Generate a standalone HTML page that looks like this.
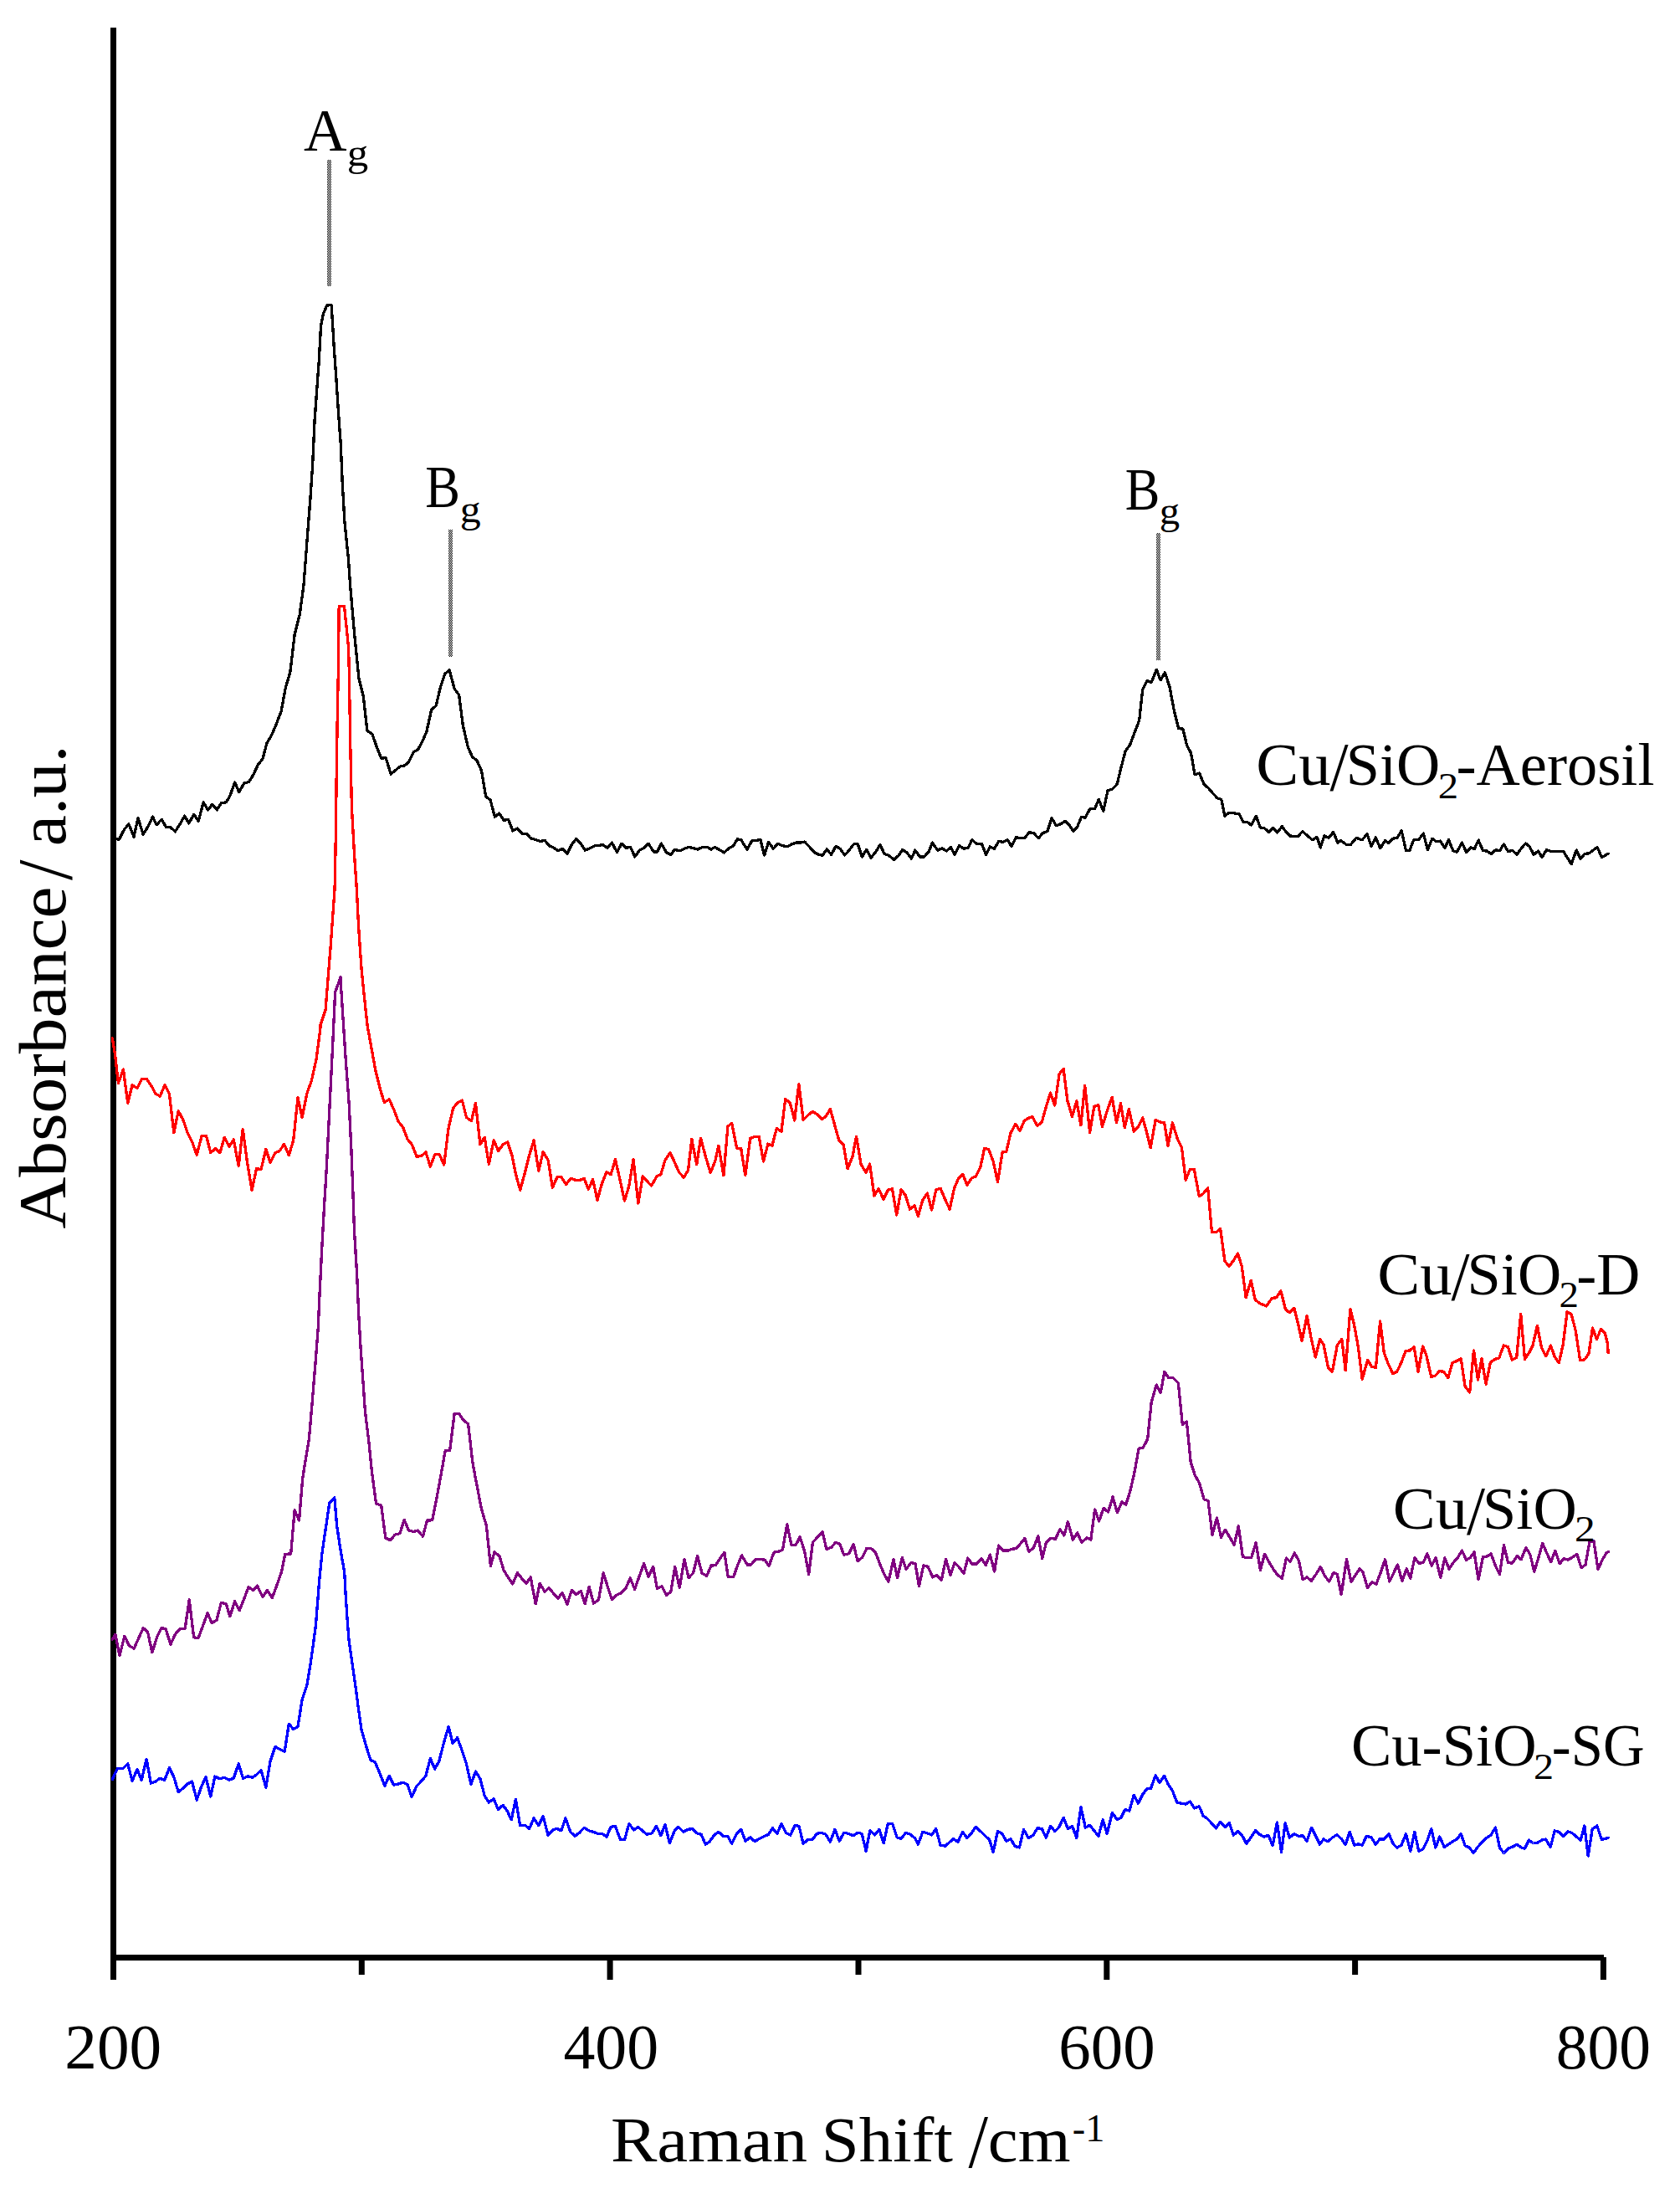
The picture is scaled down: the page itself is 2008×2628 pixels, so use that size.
<!DOCTYPE html>
<html lang="en"><head><meta charset="utf-8"><title>Raman spectra</title>
<style>
html,body{margin:0;padding:0;background:#fff}
body{width:2008px;height:2628px;overflow:hidden}
svg{display:block}
text{font-family:"Liberation Serif","DejaVu Serif",serif;fill:#000}
.c{fill:none;stroke-width:3.3;stroke-linejoin:round;stroke-linecap:round;shape-rendering:crispEdges}
.ax{fill:#000}
</style></head><body>
<svg width="2008" height="2628" viewBox="0 0 2008 2628">
<defs>
<pattern id="ckE" x="0" y="0" width="2" height="2" patternUnits="userSpaceOnUse"><rect x="0" y="0" width="1" height="1" fill="#000" shape-rendering="crispEdges"/><rect x="1" y="1" width="1" height="1" fill="#000" shape-rendering="crispEdges"/></pattern>
<pattern id="ckO" x="1" y="0" width="2" height="2" patternUnits="userSpaceOnUse"><rect x="0" y="0" width="1" height="1" fill="#000" shape-rendering="crispEdges"/><rect x="1" y="1" width="1" height="1" fill="#000" shape-rendering="crispEdges"/></pattern>
</defs>
<rect x="0" y="0" width="2008" height="2628" fill="#ffffff"/>
<rect class="ax" x="132" y="33" width="7" height="2310"/>
<rect class="ax" x="132" y="2336" width="1785" height="7"/>
<rect class="ax" x="132.0" y="2339" width="7" height="27"/>
<rect class="ax" x="725.6" y="2339" width="7" height="27"/>
<rect class="ax" x="1319.3" y="2339" width="7" height="27"/>
<rect class="ax" x="1912.9" y="2339" width="7" height="27"/>
<rect class="ax" x="428.8" y="2339" width="7" height="21"/>
<rect class="ax" x="1022.5" y="2339" width="7" height="21"/>
<rect class="ax" x="1616.1" y="2339" width="7" height="21"/>
<polyline class="c" stroke="#0000ff" points="134.3,2126.7 140.2,2113.9 147.4,2113.3 152.7,2107.9 158.1,2128.2 164.0,2114.2 169.1,2127.6 175.1,2102.3 180.4,2131.1 186.1,2129.0 190.8,2125.2 196.8,2127.3 202.4,2112.7 207.8,2123.7 213.2,2141.5 218.8,2137.1 224.2,2132.0 229.5,2129.0 235.2,2151.1 240.5,2135.6 245.9,2123.7 251.8,2146.9 256.9,2123.1 262.9,2125.8 268.2,2124.3 273.9,2127.3 279.2,2125.2 285.2,2107.9 290.5,2125.2 296.2,2122.8 301.5,2124.3 306.9,2120.7 312.0,2115.4 317.9,2136.2 323.0,2105.2 328.9,2087.4 334.3,2090.4 340.2,2093.3 345.3,2060.3 350.7,2066.5 356.0,2063.6 361.1,2031.4 367.0,2013.6 370.9,1989.8 375.1,1960.0 377.4,1942.7 379.5,1916.0 381.9,1886.2 384.9,1856.4 389.3,1826.7 393.8,1796.3 399.8,1790.0 402.7,1823.7 407.2,1853.5 411.7,1878.8 413.2,1907.0 415.2,1936.8 417.0,1960.0 420.6,1985.3 425.1,2016.5 428.6,2043.3 431.9,2066.5 437.6,2086.5 442.9,2103.5 448.3,2105.8 454.2,2119.8 459.9,2134.1 465.2,2122.2 470.6,2133.2 476.2,2132.0 481.6,2130.2 487.0,2132.6 492.0,2147.5 498.0,2134.7 503.3,2129.0 509.0,2122.2 514.3,2101.4 519.7,2114.2 524.8,2104.9 530.7,2082.0 536.1,2063.6 541.1,2083.5 546.5,2076.7 552.1,2091.5 557.5,2108.2 562.9,2132.6 568.5,2117.1 573.9,2125.8 579.2,2146.0 584.3,2154.0 590.2,2149.9 595.3,2162.4 601.2,2157.3 606.6,2164.8 611.1,2174.9 616.4,2150.5 621.7,2181.8 627.4,2181.2 632.7,2185.4 638.1,2172.9 643.8,2181.8 649.1,2170.5 655.1,2193.2 660.4,2187.2 665.5,2185.4 670.8,2187.8 675.9,2172.9 681.8,2189.3 687.2,2194.3 692.9,2189.9 698.2,2184.2 703.6,2187.8 709.2,2189.3 714.6,2191.4 719.9,2191.7 725.0,2195.2 730.1,2183.3 735.4,2182.4 741.4,2198.2 746.7,2198.2 751.8,2179.5 757.7,2186.9 762.8,2183.3 768.2,2188.4 773.5,2192.3 779.2,2190.8 784.5,2182.4 789.9,2193.8 794.9,2180.4 800.3,2202.7 806.0,2188.4 810.7,2183.3 816.7,2189.3 822.3,2186.3 827.7,2185.7 833.0,2190.8 838.1,2192.3 843.2,2204.2 847.9,2201.2 853.6,2193.2 858.9,2189.3 864.3,2194.3 869.9,2194.6 874.7,2203.3 880.4,2191.7 885.7,2186.3 891.1,2200.3 896.7,2195.8 902.1,2200.6 907.4,2197.6 913.1,2194.6 918.5,2192.3 923.5,2184.8 928.9,2191.4 933.9,2179.5 939.3,2190.2 944.6,2193.2 950.3,2181.2 955.1,2182.7 960.1,2203.3 965.5,2198.8 971.1,2198.2 976.5,2191.4 981.8,2190.2 986.9,2192.3 992.3,2201.2 997.9,2186.3 1003.3,2200.3 1008.6,2190.2 1014.3,2191.4 1019.6,2193.8 1025.0,2190.2 1030.1,2191.4 1035.1,2212.2 1039.9,2187.8 1045.5,2192.9 1050.9,2186.3 1056.2,2202.7 1061.3,2179.5 1066.7,2179.5 1072.3,2196.1 1077.1,2197.3 1082.7,2190.2 1088.1,2192.3 1093.5,2196.7 1097.3,2204.2 1102.9,2189.3 1108.3,2190.8 1113.6,2192.9 1118.7,2185.4 1124.0,2205.1 1129.7,2206.2 1134.5,2202.1 1139.5,2197.6 1144.9,2201.2 1150.5,2189.3 1155.9,2196.7 1161.2,2190.8 1166.3,2183.3 1171.7,2188.4 1177.3,2193.8 1182.7,2198.8 1187.1,2213.7 1192.5,2188.4 1197.6,2191.4 1202.9,2200.3 1208.0,2197.6 1213.0,2206.5 1218.4,2208.0 1223.5,2186.3 1229.4,2196.7 1234.8,2193.2 1240.1,2184.8 1245.2,2185.4 1250.2,2196.1 1255.6,2182.4 1261.0,2188.7 1266.0,2183.3 1271.1,2172.3 1276.4,2185.4 1281.8,2182.7 1286.8,2196.7 1291.9,2159.5 1297.3,2184.2 1302.6,2181.2 1307.7,2187.8 1313.0,2194.3 1318.1,2175.0 1323.2,2191.4 1329.4,2166.4 1335.1,2174.4 1339.8,2172.3 1344.9,2162.5 1349.9,2164.0 1355.3,2145.2 1360.4,2155.1 1365.7,2144.6 1370.8,2137.8 1375.5,2137.2 1381.2,2121.7 1386.0,2130.7 1391.6,2122.3 1396.4,2132.7 1401.4,2140.2 1406.8,2154.2 1411.8,2155.1 1417.2,2156.0 1422.3,2153.0 1427.6,2161.0 1433.3,2158.6 1438.0,2169.9 1443.1,2173.5 1448.2,2178.9 1453.5,2184.8 1458.6,2177.4 1464.5,2183.3 1469.3,2178.3 1474.3,2193.2 1479.7,2188.4 1484.8,2193.8 1489.8,2203.3 1495.2,2195.8 1500.5,2187.8 1505.6,2192.3 1510.7,2195.2 1516.0,2193.2 1521.1,2205.7 1526.4,2178.0 1531.5,2213.7 1536.2,2178.9 1541.3,2196.1 1546.7,2191.7 1552.3,2194.3 1557.1,2193.8 1562.1,2200.3 1567.5,2184.2 1573.2,2195.2 1577.5,2204.2 1582.0,2198.0 1587.0,2200.8 1592.5,2196.2 1598.0,2192.5 1603.2,2197.5 1608.2,2204.5 1613.2,2189.2 1618.8,2205.0 1623.8,2203.8 1628.2,2205.0 1633.2,2194.5 1638.8,2195.5 1644.2,2204.2 1649.2,2198.0 1654.2,2198.0 1660.0,2191.8 1665.0,2203.2 1669.5,2208.2 1675.0,2205.0 1680.5,2191.8 1685.8,2212.5 1690.8,2189.2 1695.8,2212.5 1700.8,2210.0 1705.8,2200.0 1710.8,2185.8 1715.8,2208.0 1720.8,2195.0 1726.2,2207.5 1731.2,2204.2 1736.2,2200.8 1741.2,2198.0 1746.2,2191.8 1751.2,2205.8 1756.2,2208.0 1761.2,2214.5 1766.2,2207.5 1772.0,2200.8 1777.0,2196.2 1782.0,2193.0 1787.5,2184.2 1792.5,2208.2 1797.5,2214.5 1803.2,2208.8 1808.2,2207.0 1813.2,2204.2 1818.2,2208.0 1822.5,2209.2 1827.5,2199.2 1832.5,2202.5 1837.5,2202.5 1842.5,2199.2 1847.5,2198.0 1853.2,2207.5 1858.2,2188.0 1863.8,2189.5 1868.8,2194.5 1874.2,2188.8 1879.2,2190.8 1884.2,2195.0 1889.2,2199.2 1893.8,2182.0 1898.2,2218.0 1903.2,2185.8 1908.8,2182.0 1914.2,2198.2 1918.8,2197.5 1922.5,2196.2"/>
<polyline class="c" stroke="#800080" points="134.3,1959.1 137.9,1953.2 142.9,1978.5 148.9,1955.2 154.2,1966.5 160.2,1970.1 165.5,1958.2 171.2,1945.7 176.5,1950.2 181.9,1974.9 187.9,1955.5 192.9,1945.7 198.0,1946.6 203.9,1965.1 209.3,1953.2 215.2,1946.6 221.2,1946.3 226.2,1911.5 231.6,1956.7 237.0,1957.6 242.6,1942.7 248.0,1927.9 253.3,1939.8 259.0,1936.2 264.3,1915.4 270.3,1916.8 274.8,1931.7 280.7,1913.6 286.1,1924.9 291.7,1910.9 297.1,1896.6 302.4,1900.5 307.5,1895.1 314.0,1908.5 319.4,1900.5 325.4,1909.4 330.7,1895.1 336.4,1878.8 340.8,1857.3 347.7,1857.0 352.1,1804.9 357.5,1817.1 361.7,1767.1 364.9,1746.3 369.4,1719.5 373.0,1677.9 376.4,1636.6 380.2,1588.0 382.0,1547.4 384.5,1496.5 387.3,1445.6 390.4,1394.6 392.9,1343.7 395.5,1292.8 398.0,1241.9 400.6,1185.8 407.0,1168.0 407.5,1178.0 410.8,1229.0 413.3,1267.3 417.1,1318.0 419.7,1369.0 421.7,1420.0 423.5,1471.0 426.6,1522.0 428.6,1567.8 431.1,1611.0 434.2,1654.4 436.4,1686.8 440.8,1722.5 444.4,1758.2 449.5,1796.9 455.7,1799.3 460.8,1838.0 466.7,1840.7 472.1,1834.1 478.0,1832.6 483.1,1816.2 488.5,1829.0 494.4,1830.5 499.5,1829.0 505.4,1836.2 510.5,1817.1 516.7,1816.8 521.8,1791.0 526.8,1764.2 532.2,1733.8 537.6,1733.8 543.2,1689.2 548.6,1689.2 553.9,1697.2 559.6,1701.7 564.9,1747.8 570.0,1775.2 575.4,1802.9 581.3,1823.1 586.4,1871.3 591.1,1854.9 597.1,1860.0 602.1,1876.7 608.1,1886.2 612.8,1893.0 618.5,1879.6 623.8,1886.5 628.9,1892.4 634.2,1885.0 640.2,1916.8 645.2,1892.4 651.2,1902.3 656.0,1897.5 661.6,1904.3 667.0,1910.3 672.0,1903.5 678.0,1917.1 683.3,1900.5 688.7,1905.8 694.3,1901.4 699.1,1916.8 704.2,1896.3 709.5,1916.2 715.5,1911.8 721.1,1879.9 726.5,1896.9 731.5,1911.8 736.9,1906.4 742.3,1903.8 747.9,1898.4 753.3,1885.9 758.6,1899.3 763.7,1885.0 769.6,1868.6 775.0,1884.4 780.7,1872.5 785.4,1898.4 791.1,1896.0 796.4,1906.4 801.8,1902.3 806.8,1872.5 812.2,1897.5 817.9,1863.6 823.2,1885.6 828.6,1879.9 833.6,1859.7 839.0,1879.9 844.6,1883.5 850.0,1871.0 855.4,1870.7 860.4,1862.7 865.8,1855.2 870.2,1884.4 876.8,1884.4 881.8,1870.1 886.6,1858.8 893.2,1870.1 897.6,1870.1 903.0,1863.6 908.6,1863.6 914.0,1864.2 919.0,1871.6 925.0,1855.2 930.4,1854.3 935.4,1852.3 940.8,1821.6 945.8,1846.3 951.2,1846.3 956.2,1836.8 961.6,1853.8 966.7,1881.4 971.4,1843.3 977.4,1836.8 983.0,1830.5 987.8,1851.4 993.5,1849.3 998.8,1843.3 1003.9,1845.4 1008.6,1858.2 1014.6,1856.7 1020.2,1845.7 1025.0,1865.7 1030.7,1861.2 1036.0,1850.2 1041.4,1850.8 1046.4,1855.2 1051.5,1868.6 1056.8,1881.4 1061.9,1890.1 1067.9,1863.6 1072.6,1885.6 1078.3,1861.2 1083.0,1875.5 1088.7,1867.7 1094.0,1868.6 1098.5,1895.3 1103.8,1870.9 1109.2,1872.4 1114.8,1884.9 1119.6,1882.5 1125.2,1888.5 1130.6,1863.2 1136.0,1882.8 1141.0,1867.6 1146.4,1873.0 1152.0,1880.4 1156.8,1862.0 1161.8,1869.1 1167.2,1869.1 1173.2,1862.6 1178.2,1870.6 1183.3,1858.1 1188.6,1878.0 1193.7,1847.1 1198.5,1853.0 1205.0,1853.0 1209.5,1851.2 1214.5,1850.7 1219.9,1844.7 1224.9,1838.2 1229.7,1854.2 1235.4,1849.8 1240.7,1835.8 1245.8,1862.6 1250.5,1843.2 1256.2,1838.2 1261.5,1839.3 1266.9,1827.7 1272.0,1834.9 1276.4,1818.8 1282.4,1840.2 1287.7,1831.9 1292.8,1843.2 1299.3,1837.9 1303.8,1840.2 1308.6,1803.9 1313.6,1817.9 1319.0,1802.4 1324.6,1806.9 1330.0,1789.0 1335.4,1807.5 1341.0,1795.0 1345.8,1798.0 1350.8,1782.2 1355.9,1759.9 1361.2,1731.0 1366.3,1730.1 1371.7,1719.7 1376.1,1676.5 1382.1,1655.1 1387.1,1664.6 1391.9,1639.3 1397.0,1646.8 1402.3,1646.8 1408.3,1652.7 1413.3,1702.7 1418.4,1698.9 1423.2,1747.4 1428.2,1762.9 1433.3,1771.8 1439.2,1792.0 1444.0,1793.5 1449.0,1834.3 1454.4,1814.0 1459.5,1837.3 1464.5,1828.3 1469.9,1837.3 1475.2,1846.2 1480.3,1823.9 1485.4,1860.5 1490.7,1861.7 1495.8,1861.1 1501.1,1843.8 1506.5,1876.5 1511.5,1857.2 1516.9,1867.0 1522.0,1875.4 1527.3,1882.5 1532.4,1886.4 1537.4,1862.0 1542.2,1866.4 1547.3,1856.0 1552.6,1865.5 1557.1,1887.9 1562.1,1884.9 1567.5,1889.3 1573.2,1881.0 1578.2,1872.5 1583.8,1883.8 1588.8,1890.0 1593.8,1879.5 1598.2,1881.2 1603.2,1905.5 1609.5,1863.8 1615.0,1890.8 1620.0,1882.5 1625.0,1875.0 1628.8,1878.2 1634.5,1897.5 1640.0,1890.8 1645.0,1893.0 1650.0,1880.0 1655.5,1863.8 1660.8,1890.0 1666.2,1878.8 1670.5,1870.0 1675.8,1889.5 1681.2,1875.0 1685.8,1886.2 1690.8,1861.8 1696.2,1868.2 1701.2,1867.5 1705.8,1856.8 1711.2,1871.2 1716.2,1861.8 1721.8,1885.5 1726.8,1861.8 1732.0,1875.0 1737.5,1867.0 1742.5,1861.2 1747.5,1853.2 1752.5,1864.2 1757.0,1861.8 1762.0,1855.0 1767.0,1887.5 1772.5,1860.8 1777.5,1860.0 1782.0,1856.8 1787.5,1871.2 1792.5,1881.8 1797.5,1846.2 1802.5,1867.5 1807.5,1868.2 1813.2,1859.5 1818.2,1863.8 1823.8,1849.5 1828.8,1857.5 1833.8,1878.2 1838.8,1861.8 1843.8,1844.5 1848.8,1856.2 1853.8,1866.8 1858.8,1853.2 1864.2,1868.8 1869.2,1862.5 1874.2,1864.2 1879.2,1861.2 1885.0,1857.5 1890.0,1873.8 1895.0,1870.0 1900.0,1842.5 1905.0,1842.0 1910.0,1875.5 1915.0,1864.5 1920.0,1855.8 1922.5,1854.5"/>
<polyline class="c" stroke="#ff0000" points="134.3,1240.8 137.3,1258.7 141.4,1294.4 147.4,1278.0 152.7,1318.2 158.1,1296.8 164.0,1300.4 169.7,1289.3 175.1,1289.3 180.4,1296.8 186.1,1307.2 191.4,1310.2 196.8,1296.8 202.4,1306.9 207.8,1353.9 213.2,1327.7 218.8,1338.2 224.2,1353.9 229.5,1364.3 235.2,1380.1 241.1,1357.8 246.5,1357.5 251.8,1377.7 257.5,1372.4 262.9,1377.7 268.2,1359.3 273.9,1370.3 279.2,1362.0 285.2,1393.2 290.2,1349.5 295.6,1389.6 301.0,1422.4 306.6,1396.5 312.0,1397.7 317.9,1373.3 323.0,1389.6 328.9,1377.7 334.3,1375.4 339.6,1367.3 345.3,1380.7 350.7,1362.9 356.0,1311.7 361.1,1335.5 367.0,1306.3 372.4,1291.4 378.0,1266.1 382.8,1230.4 383.0,1224.8 389.1,1207.0 391.9,1171.3 395.0,1133.0 398.3,1087.3 400.1,1061.8 401.3,1000.6 402.1,934.4 403.1,865.6 404.4,799.4 405.2,724.2 411.5,724.7 416.6,773.9 417.4,807.0 418.7,887.3 420.4,965.0 423.5,1021.0 426.3,1061.8 428.6,1107.6 431.9,1156.0 435.2,1189.0 439.0,1224.8 442.9,1246.8 448.9,1279.5 453.9,1299.8 459.3,1317.6 465.2,1313.8 470.6,1325.7 476.2,1340.5 481.6,1347.1 487.0,1361.4 492.6,1368.2 498.0,1382.2 503.3,1381.6 509.0,1377.1 514.3,1394.1 519.7,1379.8 525.4,1379.8 530.7,1392.0 536.1,1348.0 541.7,1324.2 547.1,1317.6 552.4,1315.2 557.5,1335.5 563.5,1339.6 568.5,1318.2 573.9,1367.9 579.2,1359.3 584.3,1391.1 590.2,1362.9 595.6,1375.4 601.2,1367.9 606.6,1364.9 612.0,1380.7 616.4,1402.9 621.7,1422.2 627.4,1401.4 632.7,1380.5 638.1,1362.7 643.8,1399.3 649.1,1376.7 655.1,1386.5 660.4,1419.2 666.1,1406.4 670.8,1406.7 676.5,1415.4 682.4,1408.2 687.8,1410.3 693.2,1410.3 698.2,1408.2 703.3,1421.3 708.6,1409.7 714.0,1434.1 719.6,1413.9 725.0,1400.5 730.1,1403.8 735.4,1385.6 740.8,1408.8 746.4,1435.0 751.8,1417.7 757.1,1385.6 762.8,1438.0 768.2,1405.8 773.5,1411.8 778.6,1417.1 785.1,1405.8 789.9,1403.5 794.9,1386.5 800.9,1377.6 806.2,1388.6 811.3,1400.5 817.3,1407.3 822.6,1398.4 826.8,1361.2 832.7,1391.8 837.5,1360.3 843.5,1382.6 849.1,1401.4 854.5,1388.6 858.9,1369.2 864.9,1404.9 869.9,1346.3 874.7,1342.4 880.7,1372.2 885.7,1372.5 890.8,1404.3 896.7,1360.6 902.1,1358.2 907.1,1358.2 912.5,1388.0 917.9,1367.1 922.9,1369.2 928.3,1348.4 933.9,1352.3 938.7,1313.6 944.3,1318.0 949.7,1338.9 954.8,1295.7 960.1,1338.3 965.5,1332.9 971.1,1328.5 976.5,1331.4 982.4,1337.4 986.9,1334.4 992.3,1325.5 997.9,1345.4 1002.7,1362.7 1008.3,1368.6 1013.1,1396.9 1019.0,1382.0 1023.5,1358.2 1029.2,1391.8 1035.1,1401.4 1039.6,1391.0 1044.9,1429.0 1050.3,1420.7 1056.0,1433.2 1061.3,1422.2 1066.4,1420.7 1071.7,1452.0 1077.1,1421.6 1082.1,1428.2 1087.5,1445.1 1093.2,1440.7 1097.3,1453.5 1102.9,1434.1 1108.3,1426.1 1113.6,1446.0 1118.7,1422.2 1124.0,1420.1 1129.7,1433.5 1135.1,1445.1 1140.4,1420.7 1145.5,1408.2 1150.8,1403.5 1155.9,1416.2 1161.2,1408.2 1166.3,1405.8 1171.7,1395.4 1176.7,1372.2 1181.8,1373.7 1187.1,1388.0 1192.5,1412.4 1198.2,1376.7 1202.9,1376.1 1208.0,1353.8 1213.9,1343.3 1219.0,1351.4 1224.3,1339.5 1228.8,1336.5 1233.9,1334.4 1239.8,1345.4 1245.2,1341.2 1250.2,1323.1 1255.6,1306.1 1260.7,1321.0 1266.0,1283.8 1271.1,1277.3 1275.8,1315.1 1281.5,1334.4 1286.8,1315.7 1291.9,1344.8 1296.7,1297.2 1302.6,1353.2 1307.7,1322.5 1312.7,1320.4 1317.5,1346.3 1323.5,1327.0 1329.1,1311.2 1334.5,1341.8 1339.5,1318.6 1344.3,1347.8 1349.3,1325.5 1355.3,1352.3 1360.7,1346.3 1365.7,1335.9 1370.8,1353.8 1375.2,1371.6 1381.2,1338.3 1386.5,1341.0 1391.6,1341.8 1396.1,1369.2 1401.4,1341.8 1407.4,1361.2 1412.4,1371.0 1417.2,1410.3 1422.3,1397.5 1427.3,1397.5 1433.3,1429.6 1438.0,1426.7 1443.7,1419.8 1448.5,1472.8 1453.5,1472.8 1458.6,1468.3 1463.9,1507.0 1469.0,1513.6 1474.3,1506.4 1479.4,1498.1 1484.2,1513.0 1489.2,1550.8 1495.2,1530.2 1500.2,1553.2 1505.6,1557.6 1513.6,1561.0 1520.4,1551.4 1525.5,1550.8 1530.8,1542.5 1536.5,1564.8 1541.2,1568.7 1546.9,1563.3 1551.7,1582.7 1556.1,1602.6 1562.1,1572.3 1567.1,1599.0 1572.2,1622.0 1577.6,1600.5 1582.0,1607.1 1587.4,1634.2 1592.4,1639.2 1598.4,1607.4 1603.8,1600.5 1608.2,1637.7 1613.9,1564.8 1618.6,1583.6 1623.1,1608.0 1628.2,1648.2 1634.7,1625.2 1639.5,1633.3 1644.5,1634.2 1649.6,1579.1 1654.3,1616.9 1659.4,1630.3 1664.8,1641.6 1669.8,1639.2 1674.9,1628.2 1680.2,1614.5 1685.3,1613.9 1690.1,1609.5 1695.1,1639.2 1700.5,1608.9 1704.9,1619.9 1710.6,1645.2 1715.4,1644.3 1720.4,1638.6 1725.5,1639.2 1730.8,1646.7 1735.9,1628.8 1741.2,1626.4 1746.3,1623.8 1751.1,1657.1 1756.7,1663.9 1761.5,1613.9 1766.5,1649.0 1771.0,1623.5 1776.1,1654.1 1781.4,1628.2 1786.8,1624.3 1791.8,1622.9 1797.2,1608.0 1802.3,1609.5 1807.3,1625.2 1812.7,1622.3 1817.7,1570.2 1822.5,1624.3 1827.6,1616.9 1832.0,1608.0 1837.4,1584.2 1842.4,1610.1 1847.8,1620.8 1853.5,1608.0 1858.2,1621.4 1863.3,1628.8 1868.3,1606.5 1873.1,1567.8 1878.2,1570.8 1883.2,1590.1 1888.6,1625.8 1893.9,1624.9 1899.0,1617.5 1903.5,1587.1 1908.5,1600.5 1913.3,1588.6 1918.3,1593.1 1921.3,1605.0 1922.2,1616.9"/>
<polyline class="c" stroke="#000000" points="137.9,1001.8 142.1,1003.6 148.6,991.1 153.9,985.0 160.0,1000.0 165.0,977.9 171.1,997.1 177.1,987.5 182.5,976.1 187.1,985.7 193.2,979.3 198.6,988.6 203.9,988.6 209.3,993.9 214.6,985.7 220.7,975.0 225.7,983.9 231.8,973.2 237.1,981.4 243.2,958.9 248.6,967.9 253.6,961.4 259.3,967.9 264.6,959.6 270.0,958.9 274.6,951.8 280.7,935.0 285.7,946.4 292.1,935.7 297.5,934.6 302.9,925.7 308.2,914.3 313.9,907.1 318.9,888.2 324.6,878.6 330.0,866.1 336.1,850.0 341.4,821.4 346.8,803.6 352.1,758.9 358.2,734.6 362.9,700.0 371.0,594.7 373.7,554.7 376.0,503.7 378.6,467.3 381.3,431.0 383.5,389.6 386.5,375.0 390.6,365.0 396.2,364.6 399.1,412.8 401.9,452.8 404.6,494.6 407.3,531.0 409.2,576.5 411.9,623.8 416.4,667.4 418.6,700.0 423.6,757.1 428.9,810.7 434.3,832.1 438.9,873.2 445.0,877.5 450.4,892.9 455.7,906.4 461.1,905.4 467.1,925.0 472.5,920.7 477.9,916.1 483.2,915.0 487.9,911.4 494.3,898.9 499.6,895.7 505.0,885.7 510.0,873.9 515.7,848.2 521.1,843.6 526.4,821.4 531.8,805.4 537.1,800.7 543.2,823.2 548.6,830.4 553.2,866.1 559.3,892.9 564.6,904.6 570.0,908.9 575.4,920.7 580.7,951.8 586.1,956.1 591.4,976.1 596.8,972.1 602.1,980.4 607.5,979.3 612.9,992.9 618.2,990.0 624.3,996.4 629.6,996.4 634.3,1001.8 640.4,1003.6 645.7,1005.4 651.1,1004.3 656.4,1010.7 661.8,1013.2 667.1,1016.8 672.5,1014.3 677.9,1020.4 683.2,1009.6 688.6,1002.5 693.9,1007.9 699.3,1016.1 705.7,1013.6 711.1,1010.7 715.0,1010.7 720.4,1009.6 725.7,1013.2 731.4,1007.1 737.5,1018.6 742.9,1008.2 748.2,1013.2 753.6,1012.5 758.9,1023.9 764.3,1016.1 769.6,1013.6 775.0,1008.2 781.4,1017.9 785.7,1017.9 790.4,1008.2 796.4,1018.6 801.8,1021.4 806.4,1015.4 812.5,1016.8 817.9,1014.3 823.2,1012.5 828.6,1013.6 833.9,1015.0 839.3,1012.5 845.4,1012.5 850.0,1015.0 854.6,1012.5 860.7,1016.1 865.4,1018.9 871.4,1013.6 876.1,1011.4 881.4,1002.9 885.7,1003.6 892.9,1015.0 898.9,1004.6 903.6,1004.3 908.9,1003.6 913.6,1022.1 918.6,1006.4 924.3,1014.3 929.6,1008.2 935.0,1010.7 941.1,1011.8 946.4,1008.9 951.8,1007.1 956.4,1007.1 961.8,1006.1 967.9,1012.5 973.2,1018.6 978.6,1021.4 983.2,1022.1 988.2,1015.0 993.6,1021.4 998.9,1011.4 1004.3,1014.3 1009.6,1022.1 1015.0,1016.1 1020.4,1008.9 1025.0,1008.2 1030.4,1023.9 1035.7,1015.4 1041.1,1025.0 1046.4,1018.6 1051.8,1009.6 1057.1,1020.4 1062.5,1022.5 1068.6,1027.5 1073.9,1022.5 1078.6,1015.4 1083.9,1018.9 1089.3,1026.1 1093.9,1016.1 1099.3,1023.9 1104.6,1023.9 1110.0,1017.9 1114.3,1007.1 1120.7,1016.1 1126.1,1013.6 1131.4,1017.1 1136.4,1012.5 1141.1,1021.4 1146.4,1010.7 1151.8,1014.3 1157.1,1013.2 1161.8,1003.6 1167.9,1008.9 1173.2,1008.2 1178.6,1021.4 1183.2,1011.8 1188.6,1014.3 1193.6,1005.4 1198.9,1006.4 1204.3,1003.6 1208.9,1011.4 1214.3,1000.7 1219.6,1001.8 1225.0,1001.1 1230.4,994.6 1235.7,995.7 1241.1,1001.8 1246.4,995.7 1251.8,993.6 1257.1,977.9 1262.5,986.8 1267.9,984.6 1273.2,981.4 1278.6,986.8 1280.0,989.0 1282.9,993.1 1287.6,988.3 1292.4,976.4 1297.1,977.1 1303.1,966.2 1308.6,966.2 1313.3,955.5 1318.8,969.3 1324.0,944.8 1329.5,943.1 1335.2,937.1 1339.5,919.3 1345.0,897.9 1350.7,890.0 1356.2,875.2 1361.7,861.0 1365.7,824.0 1371.0,813.3 1376.0,815.7 1382.4,800.2 1387.1,812.9 1392.4,803.8 1397.9,820.5 1403.3,849.0 1408.6,870.5 1413.8,871.2 1418.6,890.7 1423.6,900.2 1428.1,925.7 1433.6,924.0 1439.0,937.1 1444.3,941.9 1449.5,947.9 1455.0,953.8 1459.8,955.5 1464.0,975.2 1468.8,971.2 1474.8,971.7 1481.2,972.9 1486.0,982.4 1490.7,982.4 1495.5,986.0 1501.4,975.2 1506.2,989.0 1511.0,989.5 1516.4,994.3 1521.7,989.5 1526.4,995.0 1532.4,987.6 1537.1,994.3 1541.9,999.0 1546.7,999.5 1551.4,999.5 1556.9,993.6 1562.1,998.3 1568.6,1003.8 1574.0,1000.2 1578.3,1012.9 1582.9,999.0 1588.3,1001.4 1593.6,994.3 1599.0,1007.4 1602.6,1004.5 1609.8,1009.8 1614.5,1009.3 1621.0,1001.4 1628.1,1003.8 1634.0,996.7 1639.0,1011.4 1644.3,1001.0 1649.8,1013.8 1655.5,1004.5 1660.0,1007.7 1664.5,1002.3 1669.8,1001.4 1675.2,992.9 1680.5,1016.6 1685.0,1016.1 1689.5,1004.1 1695.7,1003.2 1701.4,996.1 1706.4,1015.7 1711.8,1002.3 1717.1,1005.9 1721.6,1005.0 1727.0,1013.6 1731.4,1003.6 1736.8,1016.6 1741.2,1018.4 1747.5,1007.1 1752.5,1018.4 1758.2,1013.0 1762.1,1014.8 1767.1,1004.1 1772.5,1016.6 1777.0,1017.0 1782.3,1020.5 1787.7,1015.7 1792.5,1016.6 1797.5,1008.9 1802.5,1017.5 1807.9,1016.6 1813.2,1021.1 1818.9,1013.0 1823.4,1008.0 1827.9,1011.2 1833.2,1021.4 1838.6,1017.0 1843.0,1024.6 1848.4,1015.7 1853.8,1017.5 1861.8,1017.5 1868.9,1017.9 1878.2,1032.7 1884.1,1016.1 1889.1,1026.4 1893.9,1020.5 1899.3,1019.8 1909.1,1012.5 1914.5,1024.6 1922.1,1020.2"/>
<rect fill="url(#ckO)" shape-rendering="crispEdges" x="391" y="191" width="5" height="151"/>
<rect fill="url(#ckO)" shape-rendering="crispEdges" x="536" y="633" width="5" height="152"/>
<rect fill="url(#ckE)" shape-rendering="crispEdges" x="1382" y="637" width="5" height="152"/>
<text><tspan x="362.99" y="179.7" font-size="72.0" textLength="51.52" lengthAdjust="spacingAndGlyphs">A</tspan><tspan x="414.65" y="198.0" font-size="45.5" textLength="25.49" lengthAdjust="spacingAndGlyphs">g</tspan></text>
<text><tspan x="508.21" y="606.0" font-size="71.3" textLength="41.70" lengthAdjust="spacingAndGlyphs">B</tspan><tspan x="549.70" y="623.8" font-size="45.5" textLength="24.92" lengthAdjust="spacingAndGlyphs">g</tspan></text>
<text><tspan x="1344.76" y="609.0" font-size="71.3" textLength="41.64" lengthAdjust="spacingAndGlyphs">B</tspan><tspan x="1385.73" y="625.8" font-size="45.5" textLength="24.34" lengthAdjust="spacingAndGlyphs">g</tspan></text>
<text><tspan x="1501.31" y="938.0" font-size="71.3" textLength="89.27" lengthAdjust="spacingAndGlyphs">Cu</tspan><tspan x="1589.45" y="944.2" font-size="82.0" textLength="22.08" lengthAdjust="spacingAndGlyphs">/</tspan><tspan x="1608.65" y="938.0" font-size="71.3" textLength="112.59" lengthAdjust="spacingAndGlyphs">SiO</tspan><tspan x="1718.66" y="954.0" font-size="44.5" textLength="24.40" lengthAdjust="spacingAndGlyphs">2</tspan><tspan x="1740.45" y="938.0" font-size="71.3" textLength="237.07" lengthAdjust="spacingAndGlyphs">-Aerosil</tspan></text>
<text><tspan x="1646.35" y="1546.5" font-size="71.3" textLength="89.20" lengthAdjust="spacingAndGlyphs">Cu</tspan><tspan x="1734.49" y="1552.7" font-size="82.0" textLength="22.03" lengthAdjust="spacingAndGlyphs">/</tspan><tspan x="1753.64" y="1546.5" font-size="71.3" textLength="112.58" lengthAdjust="spacingAndGlyphs">SiO</tspan><tspan x="1863.56" y="1561.8" font-size="44.5" textLength="23.44" lengthAdjust="spacingAndGlyphs">2</tspan><tspan x="1884.25" y="1546.5" font-size="71.3" textLength="76.02" lengthAdjust="spacingAndGlyphs">-D</tspan></text>
<text><tspan x="1664.84" y="1826.5" font-size="71.3" textLength="89.20" lengthAdjust="spacingAndGlyphs">Cu</tspan><tspan x="1752.99" y="1832.7" font-size="82.0" textLength="22.03" lengthAdjust="spacingAndGlyphs">/</tspan><tspan x="1772.12" y="1826.5" font-size="71.3" textLength="112.59" lengthAdjust="spacingAndGlyphs">SiO</tspan><tspan x="1881.99" y="1842.0" font-size="44.5" textLength="24.73" lengthAdjust="spacingAndGlyphs">2</tspan></text>
<text><tspan x="1614.91" y="2110.1" font-size="71.3" textLength="221.69" lengthAdjust="spacingAndGlyphs">Cu-SiO</tspan><tspan x="1833.02" y="2126.0" font-size="44.5" textLength="24.09" lengthAdjust="spacingAndGlyphs">2</tspan><tspan x="1854.87" y="2110.1" font-size="71.3" textLength="110.73" lengthAdjust="spacingAndGlyphs">-SG</tspan></text>
<text><tspan x="77.30" y="2472.2" font-size="76.5" textLength="115.88" lengthAdjust="spacingAndGlyphs">200</tspan></text>
<text><tspan x="673.42" y="2472.2" font-size="76.5" textLength="113.72" lengthAdjust="spacingAndGlyphs">400</tspan></text>
<text><tspan x="1265.30" y="2472.2" font-size="76.5" textLength="115.36" lengthAdjust="spacingAndGlyphs">600</tspan></text>
<text><tspan x="1859.83" y="2472.2" font-size="76.5" textLength="113.30" lengthAdjust="spacingAndGlyphs">800</tspan></text>
<text><tspan x="729.96" y="2582.5" font-size="77.0" textLength="235.05" lengthAdjust="spacingAndGlyphs">Raman</tspan> <tspan x="981.79" y="2582.5" font-size="77.0" textLength="157.22" lengthAdjust="spacingAndGlyphs">Shift</tspan> <tspan x="1157.48" y="2589.7" font-size="92.0" textLength="23.52" lengthAdjust="spacingAndGlyphs">/</tspan><tspan x="1180.86" y="2582.5" font-size="77.0" textLength="98.70" lengthAdjust="spacingAndGlyphs">cm</tspan><tspan x="1281.77" y="2559.0" font-size="46.6" textLength="38.58" lengthAdjust="spacingAndGlyphs">-1</tspan></text>
<text transform="rotate(-90)"><tspan x="-1468.50" y="78.0" font-size="80.0" textLength="409.02" lengthAdjust="spacingAndGlyphs">Absorbance</tspan> <tspan x="-1052.00" y="84.6" font-size="93.0" textLength="24.52" lengthAdjust="spacingAndGlyphs">/</tspan> <tspan x="-1011.18" y="78.0" font-size="80.0" textLength="120.62" lengthAdjust="spacingAndGlyphs">a.u.</tspan></text>
</svg></body></html>
